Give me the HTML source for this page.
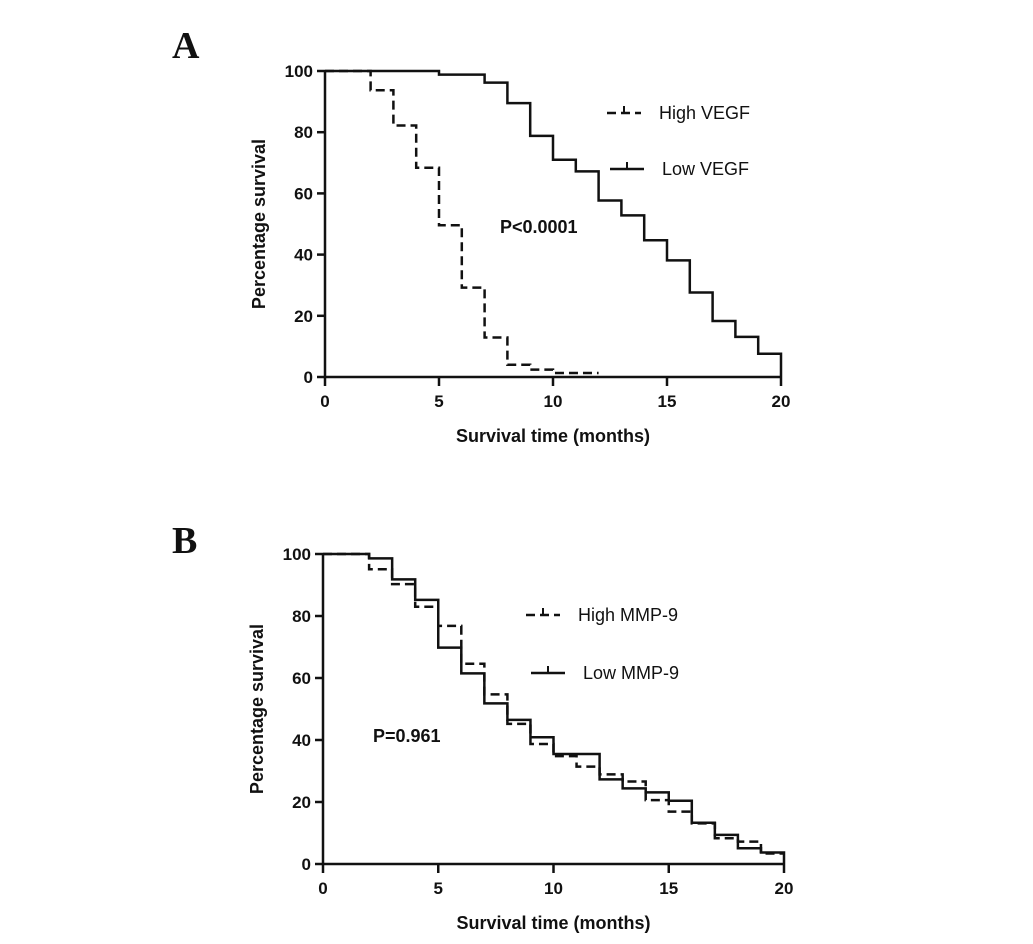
<!DOCTYPE html>
<html><head><meta charset="utf-8"><style>
body{margin:0;background:#fff}
svg text{font-family:"Liberation Sans",Arial,sans-serif;fill:#111}
</style></head><body>
<svg width="1033" height="939" viewBox="0 0 1033 939" xmlns="http://www.w3.org/2000/svg">
<g id="root"></g>
</svg>
<script>
// Panel A data
const aTimes = [0,1,2,3,4,5,6,7,8,9,10,11,12,13,14,15,16,17,18,19,20];
const aHigh = [100,100,93.7,82.2,68.4,49.6,29.2,12.9,4.0,2.4,1.3,1.3,1.3];
const aLow = [100,100,100,100,100,98.8,98.8,96.2,89.5,78.8,71.0,67.2,57.7,52.8,44.7,38.1,27.6,18.3,13.1,7.6,0];
// Panel B data
const bHigh = [100,100,95.1,90.3,83.0,76.8,64.6,54.7,45.2,38.7,34.8,31.4,28.9,26.6,20.6,16.9,13.1,8.3,7.2,3.4,3.4];
const bLow = [100,100,98.6,91.8,85.2,69.8,61.5,51.8,46.5,40.9,35.5,35.5,27.3,24.4,23.1,20.4,13.3,9.4,5.1,3.7,0];
const xTicks = [0,5,10,15,20];
const yTicks = [0,20,40,60,80,100];

const NS = "http://www.w3.org/2000/svg";
const root = document.getElementById('root');
function mk(tag, attrs, parent){const e=document.createElementNS(NS,tag);for(const k in attrs)e.setAttribute(k,attrs[k]);(parent||root).appendChild(e);return e;}

function panel(cfg){
  const g = mk('g',{});
  
  
  const X = t => cfg.x0 + (cfg.x1-cfg.x0)*t/20;
  const Y = v => cfg.y0 + (cfg.y1-cfg.y0)*v/100;
  const lbl = mk('text',{x:cfg.lx,y:cfg.ly,'font-size':38,'font-weight':'bold',style:'font-family:"Liberation Serif",serif'},g);
  lbl.textContent = cfg.letter;
  
  
  // axes
  const ax = mk('path',{d:`M${cfg.x0},${Y(100)} L${cfg.x0},${cfg.y0} L${X(20)},${cfg.y0}`,stroke:'#111','stroke-width':2.5,fill:'none'},g);
  
  
  xTicks.forEach(t=>{
    const l = mk('line',{x1:X(t),x2:X(t),y1:cfg.y0,y2:cfg.y0+9,stroke:'#111','stroke-width':2.5},g);
    
    
    const tx = mk('text',{x:X(t),y:cfg.y0+30,'font-size':17,'font-weight':'bold','text-anchor':'middle'},g);
    tx.textContent = t;
    
    
  });
  yTicks.forEach(v=>{
    const l = mk('line',{x1:cfg.x0-8,x2:cfg.x0,y1:Y(v),y2:Y(v),stroke:'#111','stroke-width':2.5},g);
    
    
    const tx = mk('text',{x:cfg.x0-12,y:Y(v)+6,'font-size':17,'font-weight':'bold','text-anchor':'end'},g);
    tx.textContent = v;
    
    
  });
  const xt = mk('text',{x:(cfg.x0+X(20))/2,y:cfg.y0+65,'font-size':18,'font-weight':'bold','text-anchor':'middle'},g);
  xt.textContent = 'Survival time (months)';
  
  
  const cy=(cfg.y0+Y(100))/2;
  const yt = mk('text',{x:cfg.x0-60,y:cy,'font-size':18,'font-weight':'bold','text-anchor':'middle',transform:`rotate(-90 ${cfg.x0-60} ${cy})`},g);
  yt.textContent = 'Percentage survival';
  
  
  // series
  cfg.series.forEach(s=>{
    let d = `M${X(0)},${Y(s.vals[0])}`;
    for(let i=1;i<s.vals.length;i++){
      d += ` L${X(aTimes[i])},${Y(s.vals[i-1])} L${X(aTimes[i])},${Y(s.vals[i])}`;
    }
    const p = mk('path',{d:d,stroke:'#111','stroke-width':2.5,fill:'none','stroke-dasharray':s.dash?'9,5':'none'},g);
    
    
    const le = mk('line',{x1:s.lx1,x2:s.lx1+34,y1:s.ly,y2:s.ly,stroke:'#111','stroke-width':2.5,'stroke-dasharray':s.dash?'9,5':'none'},g);
    
    
    mk('line',{x1:s.lx1+17,x2:s.lx1+17,y1:s.ly-7,y2:s.ly,stroke:'#111','stroke-width':2},g);
    const lt = mk('text',{x:s.lx1+52,y:s.ly+6,'font-size':18},g);
    lt.textContent = s.label;
    
    
  });
  const pv = mk('text',{x:cfg.px,y:cfg.py,'font-size':18,'font-weight':'bold'},g);
  pv.textContent = cfg.p;
  
  
}

panel({name:'panel-a',letter:'A',lx:172,ly:58,x0:325,x1:781,y0:377,y1:71,px:500,py:233,p:'P<0.0001',
  series:[{name:'high-vegf',vals:aHigh,dash:true,lx1:607,ly:113,label:'High VEGF'},
          {name:'low-vegf',vals:aLow,dash:false,lx1:610,ly:169,label:'Low VEGF'}]});
panel({name:'panel-b',letter:'B',lx:172,ly:553,x0:323,x1:784,y0:864,y1:554,px:373,py:742,p:'P=0.961',
  series:[{name:'high-mmp9',vals:bHigh,dash:true,lx1:526,ly:615,label:'High MMP-9'},
          {name:'low-mmp9',vals:bLow,dash:false,lx1:531,ly:673,label:'Low MMP-9'}]});
</script>
</body></html>
